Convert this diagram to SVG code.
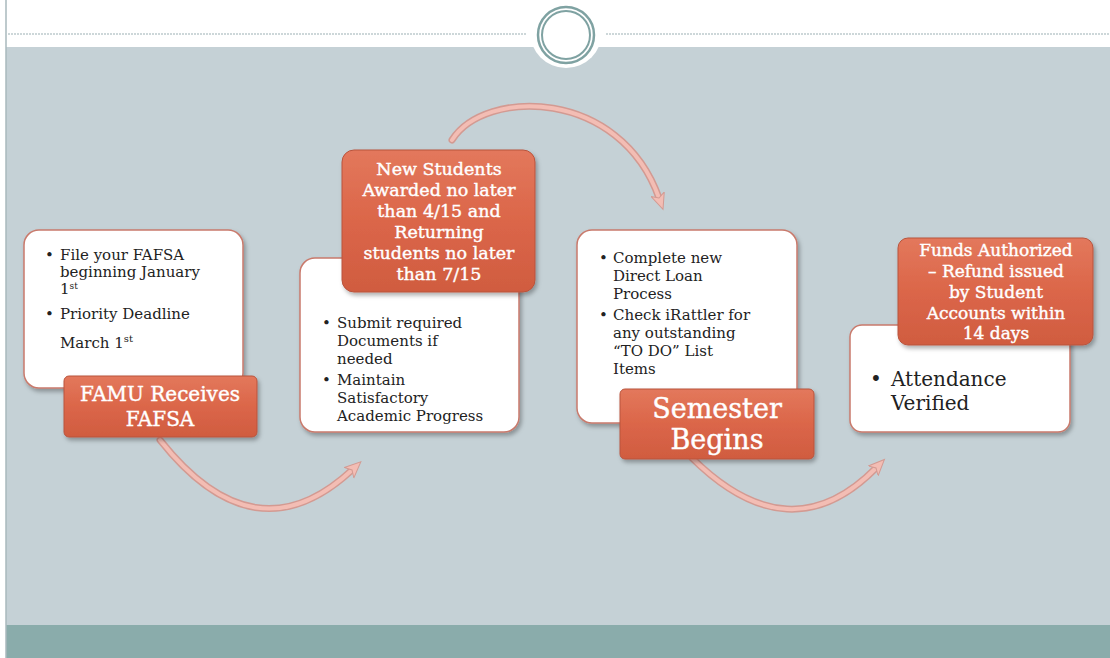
<svg xmlns="http://www.w3.org/2000/svg" width="1110" height="658" viewBox="0 0 1110 658">
<defs>
<style>
.box{fill:#ffffff;stroke:#c97a6c;stroke-width:1.5}
.lbl{fill:url(#og);stroke:#b9543c;stroke-width:1}
.t{font-family:"DejaVu Serif","Liberation Serif",serif;font-size:15px;fill:#222}
.w{font-family:"DejaVu Serif","Liberation Serif",serif;fill:#fff;text-anchor:middle;stroke:#fff;stroke-width:0.4}
.ao{fill:none;stroke:#d39a92;stroke-width:7;stroke-linecap:round}
.ai{fill:none;stroke:#f3bdb4;stroke-width:4;stroke-linecap:round}
</style>
<linearGradient id="og" x1="0" y1="0" x2="0" y2="1">
<stop offset="0" stop-color="#e3785c"/>
<stop offset="0.5" stop-color="#db6649"/>
<stop offset="1" stop-color="#d05c40"/>
</linearGradient>
<filter id="sh" x="-10%" y="-10%" width="130%" height="130%">
<feDropShadow dx="2" dy="3" stdDeviation="2" flood-color="#000" flood-opacity="0.3"/>
</filter>
<marker id="ah" markerUnits="userSpaceOnUse" markerWidth="20" markerHeight="20" refX="4" refY="8" orient="auto" viewBox="0 0 20 16">
<path d="M0,1 L16,8 L0,15 L4,8 Z" fill="#f3bdb4" stroke="#d39a92" stroke-width="1"/>
</marker>
</defs>
<rect x="0" y="0" width="1110" height="658" fill="#ffffff"/>
<rect x="6" y="47" width="1104" height="580" fill="#c5d1d6"/>
<rect x="6" y="625" width="1104" height="33" fill="#8aacab"/>
<line x1="6" y1="0" x2="6" y2="658" stroke="#a8b8bc" stroke-width="1.5"/>
<g id="header">
<line x1="8" y1="34" x2="527" y2="34" stroke="#9cb0b3" stroke-width="1.2" stroke-dasharray="2,1"/>
<line x1="606" y1="34" x2="1110" y2="34" stroke="#9cb0b3" stroke-width="1.2" stroke-dasharray="2,1"/>
<circle cx="566" cy="32" r="36" fill="#ffffff"/>
<circle cx="566" cy="35" r="28" fill="none" stroke="#7fa2a2" stroke-width="2.5"/>
<circle cx="566" cy="35" r="24" fill="none" stroke="#7fa2a2" stroke-width="2"/>
</g>
<g id="connectors">
<path class="ao" d="M160,440 Q255,560 352,470"/>
<path class="ai" d="M160,440 Q255,560 352,470" marker-end="url(#ah)"/>
<path class="ao" d="M452,140 C485,88 620,88 659,198"/>
<path class="ai" d="M452,140 C485,88 620,88 659,198" marker-end="url(#ah)"/>
<path class="ao" d="M692,458 Q790,555 876,468"/>
<path class="ai" d="M692,458 Q790,555 876,468" marker-end="url(#ah)"/>
</g>
<g id="box1">
<rect class="box" x="24" y="230" width="219" height="158" rx="15" filter="url(#sh)"/>
<text class="t" font-size="14.5"><tspan x="45" y="260">•</tspan><tspan x="60" y="260">File your FAFSA</tspan></text>
<text class="t" font-size="14.5" x="60" y="277">beginning January</text>
<text class="t" x="60" y="294">1<tspan font-size="9" dy="-5">st</tspan></text>
<text class="t"><tspan x="45" y="319">•</tspan><tspan x="60" y="319">Priority Deadline</tspan></text>
<text class="t" x="60" y="348">March 1<tspan font-size="10" dy="-6">st</tspan></text>
</g>
<g id="label1">
<rect class="lbl" x="64" y="376" width="193" height="61" rx="5" filter="url(#sh)"/>
<text class="w" font-size="20"><tspan x="160" y="401">FAMU Receives</tspan><tspan x="160" y="426">FAFSA</tspan></text>
</g>
<g id="box2">
<rect class="box" x="300" y="258" width="219" height="174" rx="15" filter="url(#sh)"/>
<text class="t"><tspan x="322" y="328">•</tspan><tspan x="337" y="328">Submit required</tspan><tspan x="337" y="346">Documents if</tspan><tspan x="337" y="364">needed</tspan><tspan x="322" y="385">•</tspan><tspan x="337" y="385">Maintain</tspan><tspan x="337" y="403">Satisfactory</tspan><tspan x="337" y="421">Academic Progress</tspan></text>
</g>
<g id="label2">
<rect class="lbl" x="342" y="150" width="193" height="142" rx="12" filter="url(#sh)"/>
<text class="w" font-size="17.5"><tspan x="439" y="175">New Students</tspan><tspan x="439" y="196">Awarded no later</tspan><tspan x="439" y="217">than 4/15  and</tspan><tspan x="439" y="238">Returning</tspan><tspan x="439" y="259">students no later</tspan><tspan x="439" y="280">than 7/15</tspan></text>
</g>
<g id="box3">
<rect class="box" x="577" y="230" width="220" height="193" rx="15" filter="url(#sh)"/>
<text class="t"><tspan x="599" y="263">•</tspan><tspan x="613" y="263">Complete new</tspan><tspan x="613" y="281">Direct Loan</tspan><tspan x="613" y="299">Process</tspan><tspan x="599" y="320">•</tspan><tspan x="613" y="320">Check iRattler for</tspan><tspan x="613" y="338">any outstanding</tspan><tspan x="613" y="356">“TO DO” List</tspan><tspan x="613" y="374">Items</tspan></text>
</g>
<g id="label3">
<rect class="lbl" x="620" y="389" width="194" height="70" rx="5" filter="url(#sh)"/>
<text class="w" font-size="27"><tspan x="717" y="418">Semester</tspan><tspan x="717" y="449">Begins</tspan></text>
</g>
<g id="box4">
<rect class="box" x="850" y="325" width="220" height="107" rx="12" filter="url(#sh)"/>
<text class="t" font-size="20"><tspan x="870" y="386" font-size="20">•</tspan><tspan x="891" y="386" font-size="20">Attendance</tspan><tspan x="891" y="410" font-size="20">Verified</tspan></text>
</g>
<g id="label4">
<rect class="lbl" x="898" y="238" width="195" height="107" rx="10" filter="url(#sh)"/>
<text class="w" font-size="17"><tspan x="996" y="256">Funds Authorized</tspan><tspan x="996" y="277">– Refund issued</tspan><tspan x="996" y="298">by Student</tspan><tspan x="996" y="319">Accounts within</tspan><tspan x="996" y="339">14 days</tspan></text>
</g>
</svg>
